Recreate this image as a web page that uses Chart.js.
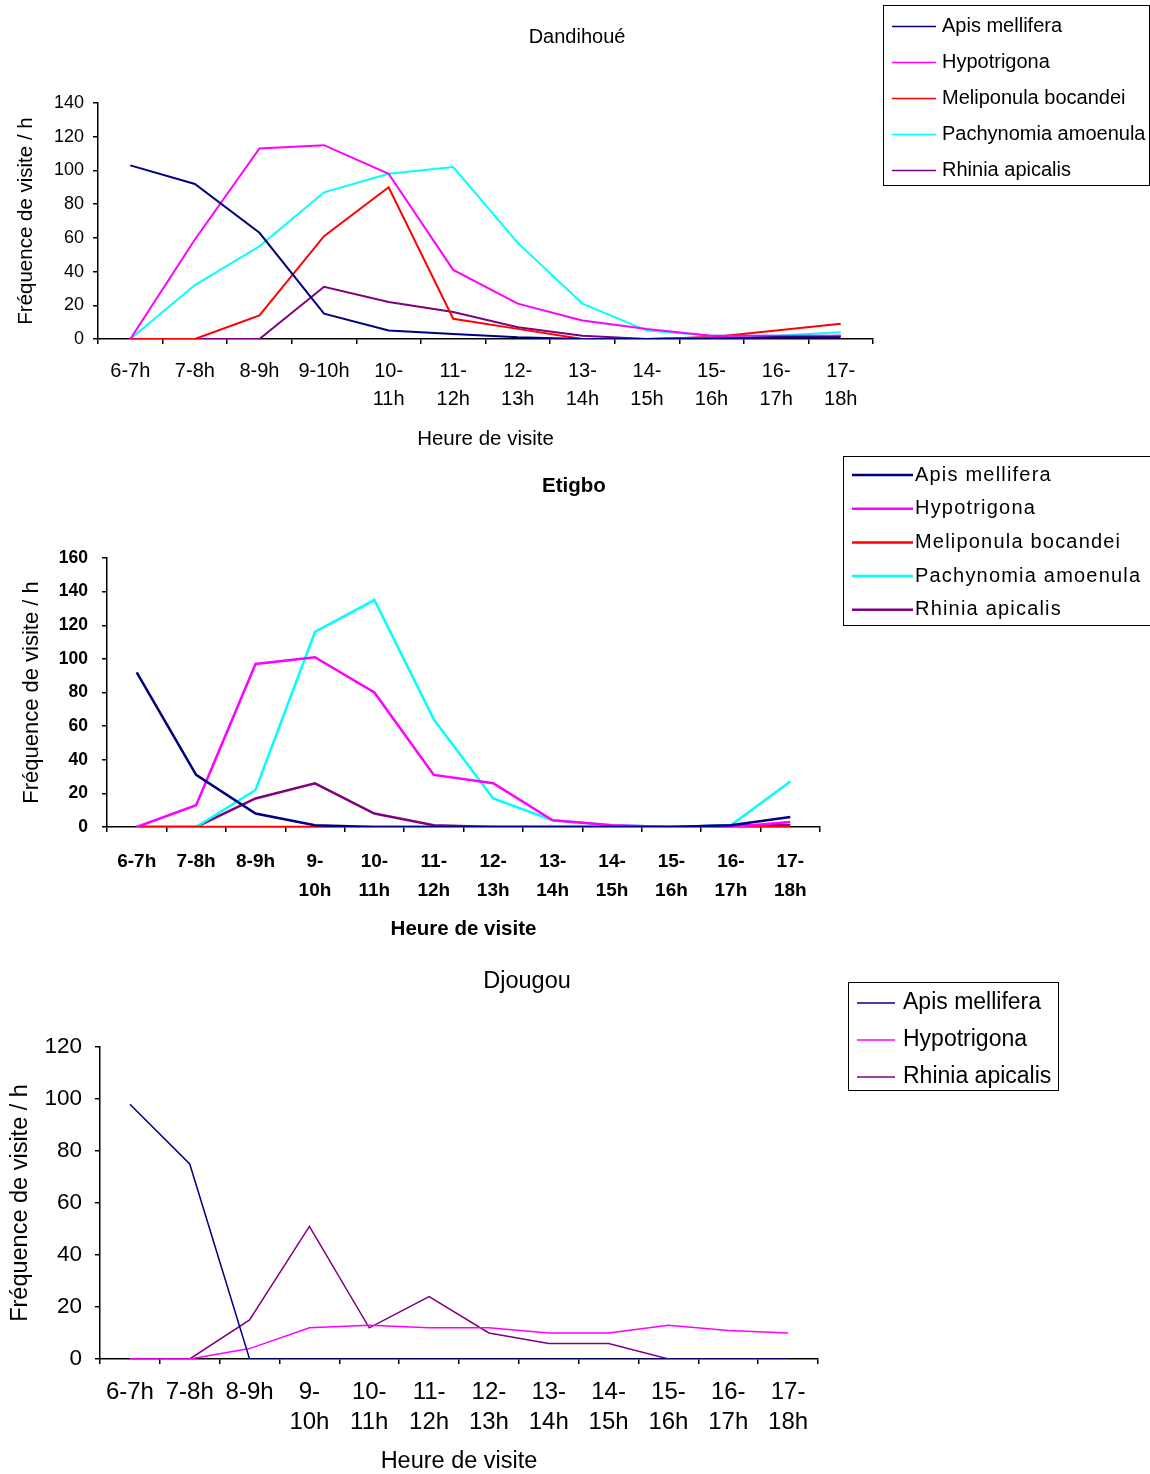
<!DOCTYPE html>
<html>
<head>
<meta charset="utf-8">
<title>Fréquence de visite</title>
<script src="https://cdn.jsdelivr.net/npm/chart.js@4.4.1/dist/chart.umd.min.js"></script>
<style>
    html, body { margin: 0; padding: 0; background: #fff; }
    #page { position: relative; width: 1150px; height: 1474px; overflow: hidden; }
    canvas { position: absolute; left: 0; }
</style>
</head>
<body>
<div id="page">
    <canvas id="chart_dandihoue" width="1150" height="460" style="top:0px"></canvas>
    <canvas id="chart_etigbo" width="1150" height="490" style="top:455px"></canvas>
    <canvas id="chart_djougou" width="1150" height="535" style="top:945px"></canvas>
</div>
<script>
"use strict";

const hours = ['6-7h', '7-8h', '8-9h', '9-10h', '10-11h', '11-12h', '12-13h', '13-14h', '14-15h', '15-16h', '16-17h', '17-18h'];

// tick labels as they are wrapped in each chart
const ticksDandihoue = ['6-7h', '7-8h', '8-9h', '9-10h', ['10-', '11h'], ['11-', '12h'], ['12-', '13h'], ['13-', '14h'], ['14-', '15h'], ['15-', '16h'], ['16-', '17h'], ['17-', '18h']];
const ticksWrapped = ['6-7h', '7-8h', '8-9h', ['9-', '10h'], ['10-', '11h'], ['11-', '12h'], ['12-', '13h'], ['13-', '14h'], ['14-', '15h'], ['15-', '16h'], ['16-', '17h'], ['17-', '18h']];

// Dandihoué
const apisD = [103, 92, 63, 15, 5, 3, 1, 0, 0, 0, 1, 1];
const hypoD = [0, 59, 113, 115, 98, 41, 21, 11, 6, 2, 2, 2];
const meliD = [0, 0, 14, 61, 90, 12, 6, 0, 0, 1, 5, 9];
const pachyD = [0, 32, 55, 87, 98, 102, 57, 21, 5, 2, 2, 4];
const rhiniaD = [0, 0, 0, 31, 22, 16, 7, 2, 0, 1, 1, 2];

// Etigbo
const apisE = [92, 31, 8, 1, 0, 0, 0, 0, 0, 0, 1, 6];
const hypoE = [0, 13, 97, 101, 80, 31, 26, 4, 1, 0, 0, 3];
const meliE = [0, 0, 0, 0, 0, 0, 0, 0, 0, 0, 0, 0];
const pachyE = [0, 0, 22, 116, 135, 64, 17, 4, 1, 0, 1, 27];
const rhiniaE = [0, 0, 17, 26, 8, 1, 0, 0, 0, 0, 1, 1];

// Djougou
const apisJ = [98, 75, 0, 0, 0, 0, 0, 0, 0, 0, 0, 0];
const hypoJ = [0, 0, 4, 12, 13, 12, 12, 10, 10, 13, 11, 10];
const rhiniaJ = [0, 0, 15, 51, 12, 24, 10, 6, 6, 0, 0, 0];

const COLORS = {
    apis: '#000080',
    hypo: '#ff00ff',
    meli: '#ff0000',
    pachy: '#00ffff',
    rhinia: '#800080',
};
const FAMILY = '"Liberation Sans", Arial, sans-serif';

// free floating title above the plot
const floatTitle = {
    id: 'floatTitle',
    afterDraw(chart, args, opts) {
        const ctx = chart.ctx;
        ctx.save();
        ctx.font = opts.font;
        ctx.fillStyle = '#000';
        ctx.textAlign = 'center';
        ctx.textBaseline = 'middle';
        ctx.fillText(opts.text, opts.x, opts.y);
        ctx.restore();
    },
};

// framed legend to the right, like the spreadsheet one
const boxLegend = {
    id: 'boxLegend',
    afterDraw(chart, args, opts) {
        const ctx = chart.ctx;
        ctx.save();
        ctx.strokeStyle = '#000';
        ctx.lineWidth = 1;
        ctx.strokeRect(opts.x + 0.5, opts.y + 0.5, opts.w, opts.h);
        ctx.font = opts.font;
        if (opts.spacing) {
            ctx.letterSpacing = opts.spacing;
        }
        ctx.textBaseline = 'middle';
        ctx.textAlign = 'left';
        chart.data.datasets.forEach(function (ds, i) {
            const y = opts.firstRow + i * opts.rowGap;
            ctx.strokeStyle = ds.borderColor;
            ctx.lineWidth = opts.lineWidth;
            ctx.beginPath();
            ctx.moveTo(opts.lineFrom, y);
            ctx.lineTo(opts.lineTo, y);
            ctx.stroke();
            ctx.fillStyle = '#000';
            ctx.fillText(ds.label, opts.textX, y);
        });
        ctx.restore();
    },
};

function series(label, values, color, width) {
    return {
        label: label,
        data: values,
        borderColor: color,
        backgroundColor: color,
        borderWidth: width,
        pointRadius: 0,
        tension: 0,
        fill: false,
    };
}

function drawLineChart(id, datasets, cfg) {
    const ctx = document.getElementById(id).getContext('2d');
    return new Chart(ctx, {
        type: 'line',
        data: { labels: hours, datasets: datasets },
        plugins: [floatTitle, boxLegend],
        options: {
            responsive: false,
            animation: false,
            devicePixelRatio: 1,
            layout: { padding: { top: cfg.top, right: cfg.right, left: 0, bottom: 0 } },
            plugins: {
                legend: { display: false },
                title: { display: false },
                tooltip: { enabled: false },
                floatTitle: cfg.title,
                boxLegend: cfg.legend,
            },
            scales: {
                x: {
                    type: 'category',
                    offset: true,
                    afterFit: function (scale) { scale.height = cfg.xHeight; },
                    grid: {
                        offset: true,
                        drawOnChartArea: false,
                        drawTicks: true,
                        tickLength: 5,
                        color: '#000',
                        lineWidth: 1.5,
                    },
                    border: { display: true, color: '#000', width: 1.5 },
                    ticks: {
                        autoSkip: false,
                        maxRotation: 0,
                        minRotation: 0,
                        padding: cfg.xTickPad,
                        color: '#000',
                        font: cfg.xTickFont,
                        callback: function (value, index) { return cfg.tickLabels[index]; },
                    },
                    title: {
                        display: true,
                        text: 'Heure de visite',
                        color: '#000',
                        font: cfg.axisFont,
                        padding: { top: 0, bottom: cfg.xTitlePad },
                    },
                },
                y: {
                    min: 0,
                    max: cfg.yMax,
                    afterFit: function (scale) { scale.width = cfg.yWidth; },
                    grid: {
                        drawOnChartArea: false,
                        drawTicks: true,
                        tickLength: 5,
                        color: '#000',
                        lineWidth: 1.5,
                    },
                    border: { display: true, color: '#000', width: 1.5 },
                    ticks: {
                        stepSize: 20,
                        padding: cfg.yTickPad,
                        color: '#000',
                        font: cfg.yTickFont,
                    },
                    title: {
                        display: true,
                        text: 'Fréquence de visite / h',
                        color: '#000',
                        font: cfg.yTitleFont,
                        padding: { top: cfg.yTitlePad, bottom: 0 },
                    },
                },
            },
        },
    });
}

drawLineChart('chart_dandihoue', [
    series('Apis mellifera', apisD, COLORS.apis, 2),
    series('Hypotrigona', hypoD, COLORS.hypo, 2),
    series('Meliponula bocandei', meliD, COLORS.meli, 2),
    series('Pachynomia amoenula', pachyD, COLORS.pachy, 2),
    series('Rhinia apicalis', rhiniaD, COLORS.rhinia, 2),
], {
    top: 103, right: 277, xHeight: 121, yWidth: 98, yMax: 140,
    tickLabels: ticksDandihoue,
    xTickPad: 13, yTickPad: 9, xTitlePad: 8.7, yTitlePad: 13.7,
    xTickFont: { family: FAMILY, size: 20, lineHeight: '28px' },
    yTickFont: { family: FAMILY, size: 18 },
    axisFont: { family: FAMILY, size: 20.5 },
    yTitleFont: { family: FAMILY, size: 20.5 },
    title: { text: 'Dandihoué', x: 577, y: 37, font: '20px ' + FAMILY },
    legend: {
        x: 883, y: 5, w: 266, h: 180, firstRow: 26.5, rowGap: 36,
        lineFrom: 892, lineTo: 936, textX: 942, lineWidth: 1.5, font: '20px ' + FAMILY,
    },
});

drawLineChart('chart_etigbo', [
    series('Apis mellifera', apisE, COLORS.apis, 2.5),
    series('Hypotrigona', hypoE, COLORS.hypo, 2.5),
    series('Meliponula bocandei', meliE, COLORS.meli, 2.5),
    series('Pachynomia amoenula', pachyE, COLORS.pachy, 2.5),
    series('Rhinia apicalis', rhiniaE, COLORS.rhinia, 2.5),
], {
    top: 103, right: 330, xHeight: 118, yWidth: 107, yMax: 160,
    tickLabels: ticksWrapped,
    xTickPad: 15.5, yTickPad: 14, xTitlePad: 3.7, yTitlePad: 18.8,
    xTickFont: { family: FAMILY, size: 19, weight: 'bold', lineHeight: '29px' },
    yTickFont: { family: FAMILY, size: 17.5, weight: 'bold' },
    axisFont: { family: FAMILY, size: 20.5, weight: 'bold' },
    yTitleFont: { family: FAMILY, size: 22 },
    title: { text: 'Etigbo', x: 574, y: 31, font: 'bold 20.5px ' + FAMILY },
    legend: {
        x: 843, y: 1, w: 320, h: 169, firstRow: 20, rowGap: 33.7,
        lineFrom: 852, lineTo: 913, textX: 915, lineWidth: 2.5,
        font: '20px ' + FAMILY, spacing: '1.2px',
    },
});

drawLineChart('chart_djougou', [
    series('Apis mellifera', apisJ, COLORS.apis, 1.5),
    series('Hypotrigona', hypoJ, COLORS.hypo, 1.5),
    series('Rhinia apicalis', rhiniaJ, COLORS.rhinia, 1.5),
], {
    top: 102, right: 332, xHeight: 121, yWidth: 100, yMax: 120,
    tickLabels: ticksWrapped,
    xTickPad: 13, yTickPad: 13, xTitlePad: 3.9, yTitlePad: 6.9,
    xTickFont: { family: FAMILY, size: 24, lineHeight: '30px' },
    yTickFont: { family: FAMILY, size: 22.5 },
    axisFont: { family: FAMILY, size: 23.5 },
    yTitleFont: { family: FAMILY, size: 23.5 },
    title: { text: 'Djougou', x: 527, y: 37, font: '23.5px ' + FAMILY },
    legend: {
        x: 848, y: 37, w: 210, h: 108, firstRow: 58, rowGap: 37,
        lineFrom: 857, lineTo: 895, textX: 903, lineWidth: 1.5, font: '23px ' + FAMILY,
    },
});
</script>
</body>
</html>
